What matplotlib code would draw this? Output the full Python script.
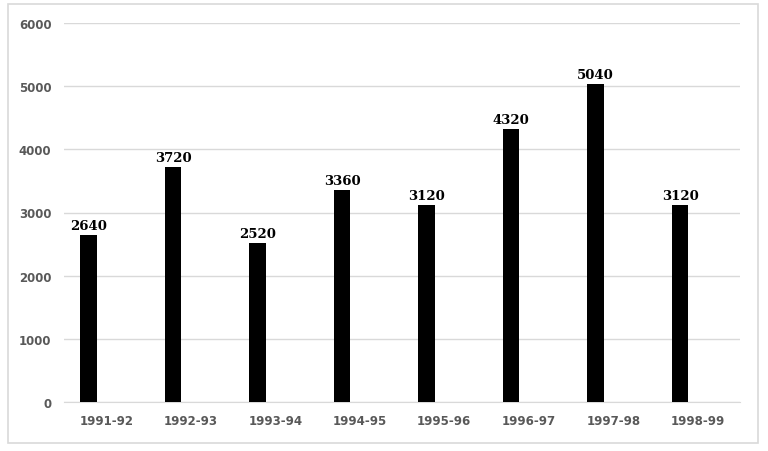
import matplotlib
matplotlib.use("Agg")
import matplotlib.pyplot as plt
import numpy as np
from matplotlib.patches import Rectangle

categories = ["1991-92", "1992-93", "1993-94", "1994-95", "1995-96", "1996-97", "1997-98", "1998-99"]
values = [2640, 3720, 2520, 3360, 3120, 4320, 5040, 3120]
yticks = [0, 1000, 2000, 3000, 4000, 5000, 6000]

fig = plt.figure(figsize=(7.68, 4.52), dpi=100)
fig.patches.append(Rectangle((8/768, 1-444/452), 750/768, 439/452, transform=fig.transFigure,
                             fill=False, edgecolor="#d9d9d9", linewidth=1.2))
ax = fig.add_axes([64/768, 1-403/452, 676/768, 379/452])

x = np.arange(len(categories))
bars = ax.bar(x - 0.21, values, width=0.19, color="black", zorder=3)
for xi, v in zip(x, values):
    ax.annotate(str(v), (xi - 0.21, v), xytext=(0, 2), textcoords="offset points",
                ha="center", va="bottom", fontsize=9.5, fontweight="bold",
                family="DejaVu Serif", color="black", zorder=4)

ax.set_xlim(-0.5, len(categories) - 0.5)
ax.set_ylim(0, 6000)
ax.set_yticks(yticks)
ax.set_yticklabels([str(t) for t in yticks])
ax.set_xticks(x)
ax.set_xticklabels(categories)
ax.grid(axis="y", color="#d9d9d9", linewidth=1, zorder=0)
for s in ["top", "right", "left"]:
    ax.spines[s].set_visible(False)
ax.spines["bottom"].set_color("#d9d9d9")
ax.tick_params(axis="both", length=0, labelsize=8.5, labelcolor="#595959")
ax.tick_params(axis="y", pad=9)
ax.tick_params(axis="x", pad=9)
for lab in ax.get_xticklabels() + ax.get_yticklabels():
    lab.set_fontweight("bold")

fig.savefig("out.png", dpi=100)
